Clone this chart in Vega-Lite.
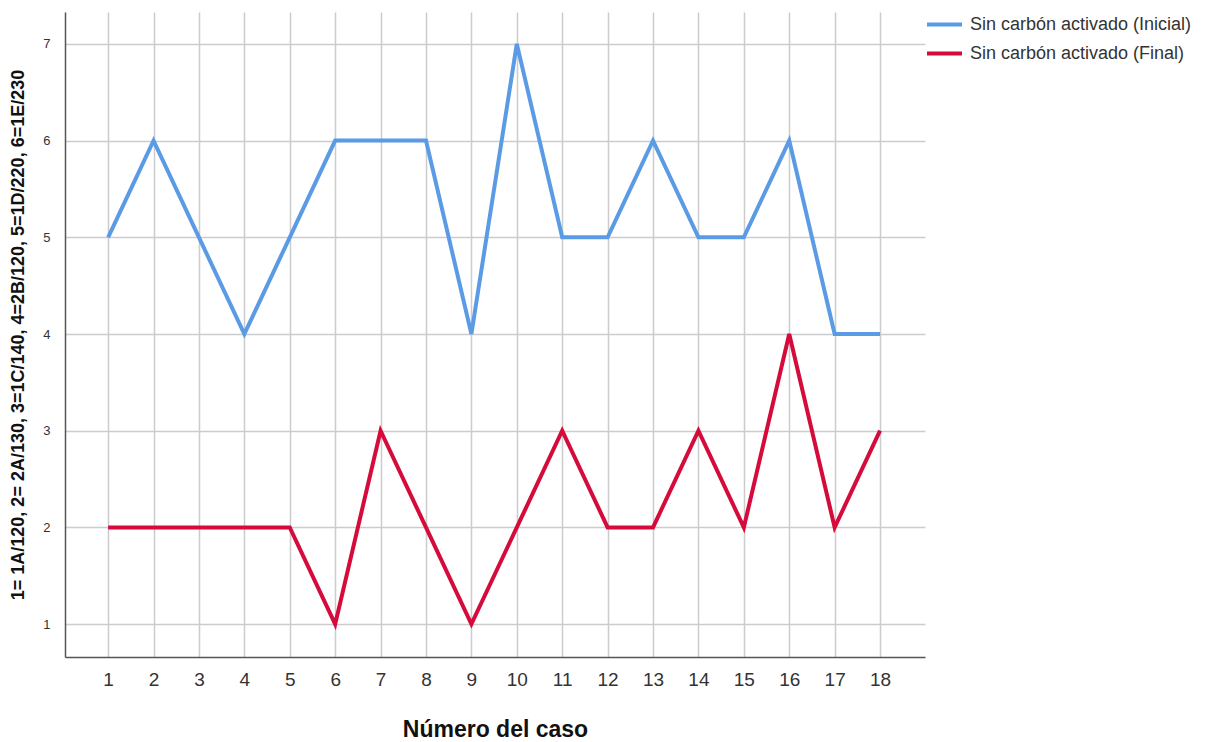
{
  "$schema": "https://vega.github.io/schema/vega-lite/v6.json",
  "width": 860,
  "height": 645,
  "autosize": "none",
  "padding": {"left": 65, "top": 12, "right": 282, "bottom": 85},
  "background": "white",
  "config": {
    "font": "Liberation Sans",
    "view": {"stroke": null},
    "axis": {"gridColor": "#cccccc", "gridWidth": 1.5, "domainColor": "#555555", "domainWidth": 1.5, "ticks": false, "labelColor": "#333333", "titleColor": "#111111"}
  },
  "data": {
    "values": [
      {"caso": 1, "serie": "Sin carbón activado (Inicial)", "valor": 5},
      {"caso": 2, "serie": "Sin carbón activado (Inicial)", "valor": 6},
      {"caso": 3, "serie": "Sin carbón activado (Inicial)", "valor": 5},
      {"caso": 4, "serie": "Sin carbón activado (Inicial)", "valor": 4},
      {"caso": 5, "serie": "Sin carbón activado (Inicial)", "valor": 5},
      {"caso": 6, "serie": "Sin carbón activado (Inicial)", "valor": 6},
      {"caso": 7, "serie": "Sin carbón activado (Inicial)", "valor": 6},
      {"caso": 8, "serie": "Sin carbón activado (Inicial)", "valor": 6},
      {"caso": 9, "serie": "Sin carbón activado (Inicial)", "valor": 4},
      {"caso": 10, "serie": "Sin carbón activado (Inicial)", "valor": 7},
      {"caso": 11, "serie": "Sin carbón activado (Inicial)", "valor": 5},
      {"caso": 12, "serie": "Sin carbón activado (Inicial)", "valor": 5},
      {"caso": 13, "serie": "Sin carbón activado (Inicial)", "valor": 6},
      {"caso": 14, "serie": "Sin carbón activado (Inicial)", "valor": 5},
      {"caso": 15, "serie": "Sin carbón activado (Inicial)", "valor": 5},
      {"caso": 16, "serie": "Sin carbón activado (Inicial)", "valor": 6},
      {"caso": 17, "serie": "Sin carbón activado (Inicial)", "valor": 4},
      {"caso": 18, "serie": "Sin carbón activado (Inicial)", "valor": 4},
      {"caso": 1, "serie": "Sin carbón activado (Final)", "valor": 2},
      {"caso": 2, "serie": "Sin carbón activado (Final)", "valor": 2},
      {"caso": 3, "serie": "Sin carbón activado (Final)", "valor": 2},
      {"caso": 4, "serie": "Sin carbón activado (Final)", "valor": 2},
      {"caso": 5, "serie": "Sin carbón activado (Final)", "valor": 2},
      {"caso": 6, "serie": "Sin carbón activado (Final)", "valor": 1},
      {"caso": 7, "serie": "Sin carbón activado (Final)", "valor": 3},
      {"caso": 8, "serie": "Sin carbón activado (Final)", "valor": 2},
      {"caso": 9, "serie": "Sin carbón activado (Final)", "valor": 1},
      {"caso": 10, "serie": "Sin carbón activado (Final)", "valor": 2},
      {"caso": 11, "serie": "Sin carbón activado (Final)", "valor": 3},
      {"caso": 12, "serie": "Sin carbón activado (Final)", "valor": 2},
      {"caso": 13, "serie": "Sin carbón activado (Final)", "valor": 2},
      {"caso": 14, "serie": "Sin carbón activado (Final)", "valor": 3},
      {"caso": 15, "serie": "Sin carbón activado (Final)", "valor": 2},
      {"caso": 16, "serie": "Sin carbón activado (Final)", "valor": 4},
      {"caso": 17, "serie": "Sin carbón activado (Final)", "valor": 2},
      {"caso": 18, "serie": "Sin carbón activado (Final)", "valor": 3}
    ]
  },
  "mark": {"type": "line", "strokeWidth": 4, "strokeJoin": "miter"},
  "encoding": {
    "x": {
      "field": "caso", "type": "quantitative",
      "scale": {"domain": [0.05, 18.99], "nice": false, "zero": false},
      "axis": {"values": [1,2,3,4,5,6,7,8,9,10,11,12,13,14,15,16,17,18], "title": "Número del caso", "titleFontSize": 23, "titleFontWeight": "bold", "titlePadding": 29, "labelFontSize": 19, "labelPadding": 13, "format": "d", "labelFlush": false}
    },
    "y": {
      "field": "valor", "type": "quantitative",
      "scale": {"domain": [0.66, 7.33], "nice": false, "zero": false},
      "axis": {"values": [1,2,3,4,5,6,7], "title": "1= 1A/120, 2= 2A/130, 3=1C/140, 4=2B/120, 5=1D/220, 6=1E/230", "titleFontSize": 18, "titleFontWeight": "bold", "titlePadding": 15, "labelFontSize": 13, "labelPadding": 15, "labelFlush": false}
    },
    "color": {
      "field": "serie", "type": "nominal",
      "scale": {"domain": ["Sin carbón activado (Inicial)", "Sin carbón activado (Final)"], "range": ["#5B9BE6", "#D50B3C"]},
      "legend": {"title": null, "orient": "none", "legendX": 860, "legendY": -7, "symbolType": "stroke", "symbolSize": 1225, "symbolStrokeWidth": 4, "labelFontSize": 18, "labelLimit": 400, "labelColor": "#333333", "rowPadding": -13, "labelOffset": 6}
    }
  }
}
